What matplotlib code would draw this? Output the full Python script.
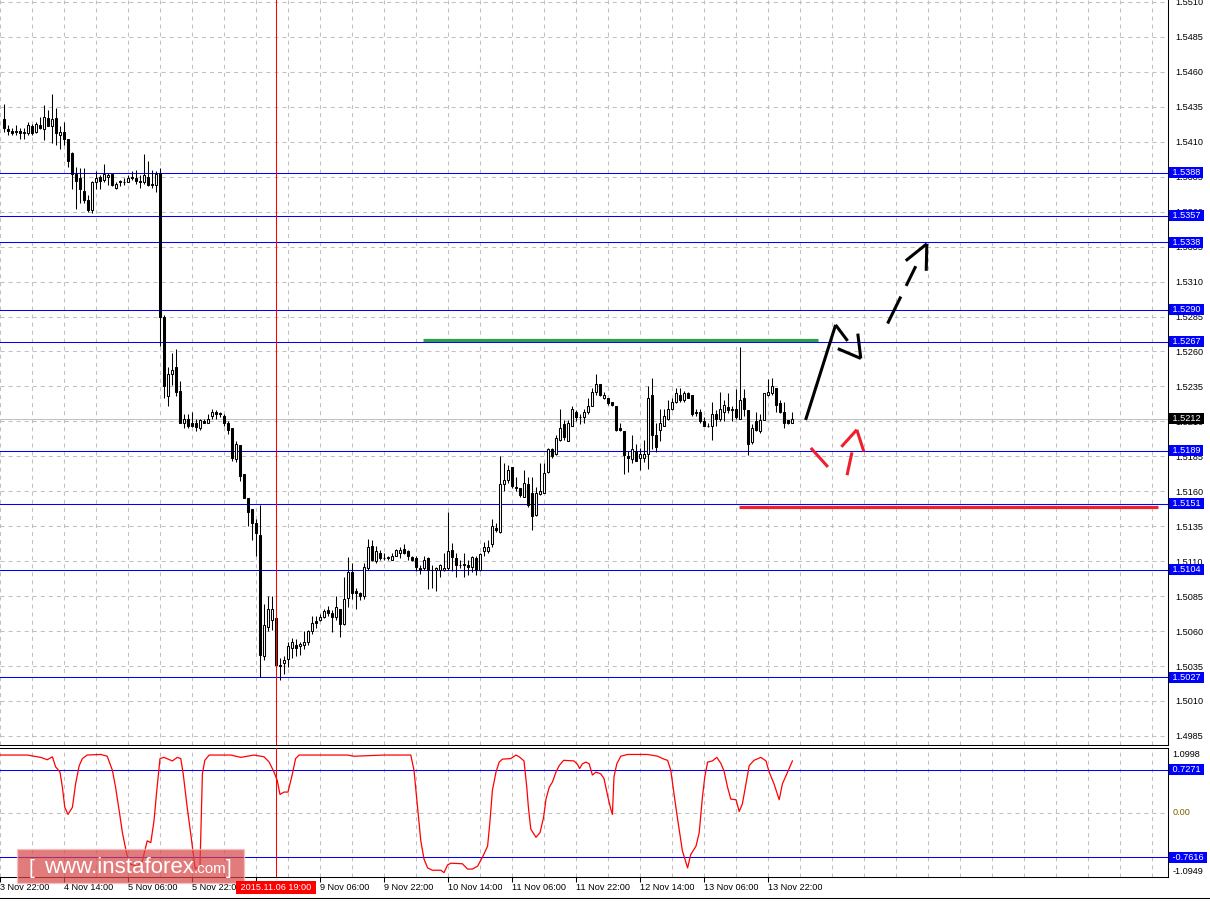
import matplotlib
matplotlib.use("Agg")
from matplotlib import pyplot as plt
from matplotlib import transforms
from matplotlib.lines import Line2D
from matplotlib.patches import Rectangle
import numpy as np

plt.rcParams["font.family"] = ["Liberation Sans", "DejaVu Sans"]
plt.rcParams["lines.scale_dashes"] = False

# GBP/USD H1 candles, first bar 3 Nov 22:00
opens = [1.5426, 1.5419, 1.5418, 1.5418, 1.5418, 1.5417, 1.5416, 1.5421, 1.5417, 1.5422,
         1.5419, 1.5427, 1.5421, 1.5427, 1.5415, 1.5417, 1.5412, 1.5402, 1.5387, 1.5384,
         1.5375, 1.5368, 1.5361, 1.5381, 1.5385, 1.5383, 1.5385, 1.5387, 1.5377, 1.5382,
         1.5381, 1.5381, 1.5385, 1.5384, 1.5382, 1.5381, 1.5385, 1.5380, 1.5379, 1.5388,
         1.5285, 1.5228, 1.5244, 1.5249, 1.5232, 1.5209, 1.5212, 1.5209, 1.5209, 1.5205,
         1.5210, 1.5209, 1.5214, 1.5217, 1.5216, 1.5214, 1.5209, 1.5205, 1.5183, 1.5193,
         1.5172, 1.5155, 1.5147, 1.5137, 1.5129, 1.5042, 1.5063, 1.5068, 1.5069, 1.5036,
         1.5037, 1.5040, 1.5048, 1.5050, 1.5049, 1.5050, 1.5052, 1.5060, 1.5067, 1.5068,
         1.5070, 1.5075, 1.5073, 1.5070, 1.5076, 1.5065, 1.5084, 1.5102, 1.5089, 1.5087,
         1.5085, 1.5105, 1.5121, 1.5110, 1.5116, 1.5112, 1.5112, 1.5111, 1.5114, 1.5116,
         1.5119, 1.5117, 1.5113, 1.5112, 1.5105, 1.5105, 1.5112, 1.5104, 1.5104, 1.5104,
         1.5104, 1.5105, 1.5118, 1.5112, 1.5107, 1.5108, 1.5107, 1.5106, 1.5112, 1.5104,
         1.5117, 1.5117, 1.5122, 1.5134, 1.5131, 1.5165, 1.5168, 1.5177, 1.5163, 1.5162,
         1.5156, 1.5165, 1.5159, 1.5143, 1.5158, 1.5159, 1.5174, 1.5190, 1.5187, 1.5197,
         1.5208, 1.5196, 1.5207, 1.5217, 1.5213, 1.5213, 1.5217, 1.5221, 1.5231, 1.5237,
         1.5227, 1.5227, 1.5224, 1.5221, 1.5205, 1.5203, 1.5185, 1.5183, 1.5189, 1.5184,
         1.5184, 1.5187, 1.5229, 1.5200, 1.5204, 1.5207, 1.5212, 1.5219, 1.5224, 1.5229,
         1.5225, 1.5230, 1.5229, 1.5217, 1.5217, 1.5210, 1.5207, 1.5207, 1.5215, 1.5212,
         1.5217, 1.5220, 1.5218, 1.5219, 1.5212, 1.5227, 1.5218, 1.5195, 1.5210, 1.5203,
         1.5211, 1.5229, 1.5230, 1.5234, 1.5223, 1.5217, 1.5211, 1.5209]
highs = [1.5437, 1.5422, 1.5420, 1.5422, 1.5420, 1.5420, 1.5424, 1.5423, 1.5424, 1.5428,
         1.5436, 1.5433, 1.5444, 1.5434, 1.5421, 1.5424, 1.5412, 1.5403, 1.5392, 1.5391,
         1.5391, 1.5372, 1.5382, 1.5389, 1.5386, 1.5394, 1.5388, 1.5387, 1.5381, 1.5383,
         1.5384, 1.5386, 1.5389, 1.5390, 1.5386, 1.5401, 1.5396, 1.5390, 1.5389, 1.5391,
         1.5286, 1.5249, 1.5259, 1.5262, 1.5239, 1.5215, 1.5215, 1.5217, 1.5212, 1.5212,
         1.5212, 1.5215, 1.5219, 1.5218, 1.5217, 1.5215, 1.5210, 1.5205, 1.5196, 1.5193,
         1.5172, 1.5155, 1.5147, 1.5140, 1.5150, 1.5079, 1.5085, 1.5085, 1.5070, 1.5041,
         1.5042, 1.5052, 1.5055, 1.5054, 1.5052, 1.5060, 1.5061, 1.5071, 1.5071, 1.5072,
         1.5076, 1.5078, 1.5075, 1.5085, 1.5076, 1.5099, 1.5113, 1.5109, 1.5091, 1.5088,
         1.5109, 1.5126, 1.5125, 1.5121, 1.5118, 1.5116, 1.5114, 1.5116, 1.5119, 1.5120,
         1.5122, 1.5118, 1.5114, 1.5114, 1.5107, 1.5114, 1.5113, 1.5107, 1.5106, 1.5108,
         1.5116, 1.5145, 1.5123, 1.5116, 1.5111, 1.5116, 1.5111, 1.5114, 1.5114, 1.5116,
         1.5124, 1.5125, 1.5140, 1.5137, 1.5185, 1.5180, 1.5179, 1.5177, 1.5170, 1.5162,
         1.5175, 1.5170, 1.5170, 1.5163, 1.5180, 1.5180, 1.5191, 1.5191, 1.5200, 1.5219,
         1.5211, 1.5211, 1.5221, 1.5218, 1.5215, 1.5219, 1.5227, 1.5234, 1.5244, 1.5237,
         1.5231, 1.5227, 1.5224, 1.5221, 1.5209, 1.5203, 1.5189, 1.5200, 1.5194, 1.5191,
         1.5197, 1.5235, 1.5241, 1.5209, 1.5219, 1.5219, 1.5225, 1.5227, 1.5234, 1.5234,
         1.5232, 1.5231, 1.5229, 1.5219, 1.5219, 1.5213, 1.5209, 1.5224, 1.5218, 1.5231,
         1.5225, 1.5230, 1.5221, 1.5233, 1.5263, 1.5233, 1.5218, 1.5208, 1.5217, 1.5215,
         1.5230, 1.5240, 1.5241, 1.5234, 1.5225, 1.5224, 1.5211, 1.5217]
lows = [1.5417, 1.5415, 1.5415, 1.5415, 1.5412, 1.5412, 1.5415, 1.5415, 1.5416, 1.5419,
        1.5411, 1.5421, 1.5409, 1.5408, 1.5405, 1.5408, 1.5392, 1.5376, 1.5362, 1.5366,
        1.5366, 1.5360, 1.5359, 1.5376, 1.5376, 1.5381, 1.5379, 1.5378, 1.5376, 1.5378,
        1.5379, 1.5381, 1.5383, 1.5380, 1.5377, 1.5380, 1.5378, 1.5377, 1.5374, 1.5264,
        1.5227, 1.5221, 1.5236, 1.5228, 1.5209, 1.5205, 1.5205, 1.5206, 1.5203, 1.5204,
        1.5209, 1.5209, 1.5212, 1.5212, 1.5213, 1.5207, 1.5201, 1.5182, 1.5181, 1.5167,
        1.5155, 1.5135, 1.5125, 1.5114, 1.5027, 1.5039, 1.5060, 1.5061, 1.5036, 1.5025,
        1.5029, 1.5034, 1.5041, 1.5042, 1.5043, 1.5047, 1.5050, 1.5058, 1.5062, 1.5067,
        1.5069, 1.5071, 1.5059, 1.5068, 1.5056, 1.5064, 1.5077, 1.5083, 1.5076, 1.5082,
        1.5083, 1.5104, 1.5110, 1.5109, 1.5111, 1.5111, 1.5111, 1.5111, 1.5114, 1.5112,
        1.5115, 1.5111, 1.5110, 1.5103, 1.5101, 1.5104, 1.5090, 1.5091, 1.5089, 1.5099,
        1.5103, 1.5104, 1.5103, 1.5099, 1.5105, 1.5099, 1.5100, 1.5102, 1.5100, 1.5103,
        1.5114, 1.5116, 1.5120, 1.5131, 1.5130, 1.5160, 1.5166, 1.5162, 1.5160, 1.5156,
        1.5156, 1.5149, 1.5132, 1.5142, 1.5157, 1.5159, 1.5173, 1.5184, 1.5186, 1.5196,
        1.5197, 1.5196, 1.5207, 1.5210, 1.5208, 1.5209, 1.5215, 1.5221, 1.5229, 1.5228,
        1.5226, 1.5222, 1.5221, 1.5203, 1.5203, 1.5172, 1.5174, 1.5180, 1.5182, 1.5175,
        1.5181, 1.5176, 1.5190, 1.5188, 1.5196, 1.5207, 1.5211, 1.5218, 1.5223, 1.5224,
        1.5224, 1.5227, 1.5214, 1.5214, 1.5209, 1.5207, 1.5206, 1.5197, 1.5207, 1.5210,
        1.5210, 1.5216, 1.5210, 1.5212, 1.5212, 1.5214, 1.5186, 1.5194, 1.5203, 1.5202,
        1.5211, 1.5228, 1.5229, 1.5217, 1.5216, 1.5205, 1.5208, 1.5209]
closes = [1.5420, 1.5418, 1.5416, 1.5417, 1.5416, 1.5416, 1.5422, 1.5416, 1.5423, 1.5420,
          1.5428, 1.5421, 1.5426, 1.5416, 1.5417, 1.5412, 1.5396, 1.5387, 1.5382, 1.5376,
          1.5368, 1.5361, 1.5381, 1.5384, 1.5382, 1.5387, 1.5386, 1.5379, 1.5380, 1.5381,
          1.5381, 1.5384, 1.5384, 1.5382, 1.5381, 1.5386, 1.5379, 1.5379, 1.5387, 1.5285,
          1.5235, 1.5244, 1.5247, 1.5231, 1.5209, 1.5212, 1.5207, 1.5207, 1.5206, 1.5211,
          1.5209, 1.5212, 1.5217, 1.5215, 1.5215, 1.5209, 1.5204, 1.5184, 1.5194, 1.5171,
          1.5155, 1.5145, 1.5137, 1.5130, 1.5043, 1.5064, 1.5076, 1.5076, 1.5036, 1.5035,
          1.5039, 1.5049, 1.5052, 1.5048, 1.5051, 1.5052, 1.5060, 1.5066, 1.5066, 1.5070,
          1.5074, 1.5073, 1.5070, 1.5077, 1.5065, 1.5083, 1.5102, 1.5087, 1.5087, 1.5085,
          1.5106, 1.5120, 1.5111, 1.5117, 1.5112, 1.5112, 1.5113, 1.5114, 1.5118, 1.5118,
          1.5116, 1.5114, 1.5111, 1.5106, 1.5104, 1.5111, 1.5104, 1.5104, 1.5105, 1.5107,
          1.5105, 1.5117, 1.5113, 1.5107, 1.5107, 1.5107, 1.5106, 1.5113, 1.5104, 1.5115,
          1.5120, 1.5120, 1.5135, 1.5132, 1.5165, 1.5168, 1.5175, 1.5164, 1.5162, 1.5157,
          1.5166, 1.5150, 1.5142, 1.5159, 1.5160, 1.5173, 1.5190, 1.5185, 1.5198, 1.5205,
          1.5199, 1.5209, 1.5219, 1.5213, 1.5213, 1.5217, 1.5221, 1.5231, 1.5237, 1.5229,
          1.5229, 1.5223, 1.5222, 1.5204, 1.5204, 1.5186, 1.5184, 1.5190, 1.5182, 1.5187,
          1.5187, 1.5227, 1.5200, 1.5192, 1.5209, 1.5214, 1.5219, 1.5224, 1.5230, 1.5225,
          1.5230, 1.5227, 1.5215, 1.5216, 1.5210, 1.5207, 1.5207, 1.5215, 1.5212, 1.5219,
          1.5222, 1.5218, 1.5219, 1.5213, 1.5225, 1.5219, 1.5194, 1.5205, 1.5204, 1.5211,
          1.5230, 1.5231, 1.5235, 1.5222, 1.5217, 1.5209, 1.5209, 1.5212]

level_prices = [1.5388, 1.5357, 1.5338, 1.5290, 1.5267, 1.5189, 1.5151, 1.5104, 1.5027]
bid_price = 1.5212
price_ticks = [round(1.4985 + 0.0025 * i, 4) for i in range(22)]

time_tick_bars = [-1, 15, 31, 47, 63, 79, 95, 111, 127, 143, 159, 175, 191]
time_tick_labels = ["3 Nov 22:00", "4 Nov 14:00", "5 Nov 06:00", "5 Nov 22:00",
                    "6 Nov 14:00", "9 Nov 06:00", "9 Nov 22:00", "10 Nov 14:00",
                    "11 Nov 06:00", "11 Nov 22:00", "12 Nov 14:00", "13 Nov 06:00",
                    "13 Nov 22:00"]
cursor_bar = 68
cursor_label = "2015.11.06 19:00"

# oscillator (bar, value)
osc_points = [(-1, 0.98), (5.8, 0.98), (9.2, 0.94), (10.8, 0.90), (12.1, 0.95), (12.9, 0.78),
              (14, 0.69), (14.6, 0.43), (15.2, 0.09), (16, -0.03), (17.1, 0.09), (17.9, 0.49),
              (18.8, 0.80), (19.6, 0.92), (20.8, 0.98), (24.2, 0.99), (25.8, 0.96), (27.1, 0.72),
              (27.9, 0.43), (28.8, 0.03), (29.6, -0.34), (30.7, -0.71), (31.7, -0.88), (33.3, -0.91),
              (34.6, -0.82), (35.8, -0.48), (36.7, -0.51), (37.5, -0.14), (38.2, 0.38), (39, 0.92),
              (40, 0.94), (42.1, 0.88), (43.3, 0.94), (44.2, 0.92), (44.8, 0.66), (45.8, 0.09),
              (46.8, -0.42), (47.8, -0.96), (49, -0.91), (49.6, 0.66), (50.2, 0.89), (51.3, 0.98),
              (56.7, 0.98), (59.2, 0.94), (60.8, 0.96), (62.5, 0.98), (65, 0.95), (66.3, 0.86),
              (67.5, 0.69), (68.3, 0.55), (69, 0.31), (70, 0.35), (71, 0.35), (72.1, 0.66),
              (72.9, 0.92), (73.8, 0.98), (85.8, 0.98), (87.5, 0.96), (95, 0.98), (101.7, 0.98),
              (102.5, 0.72), (103.4, 0.09), (104.2, -0.48), (105, -0.79), (105.9, -0.94),
              (107.1, -0.98), (109.2, -0.98), (110, -1.02), (110.9, -0.89), (111.7, -0.86),
              (114.6, -0.87), (115.9, -0.96), (117.1, -0.96), (118.4, -0.91), (119.6, -0.76),
              (120.9, -0.57), (121.5, -0.14), (122.1, 0.38), (123, 0.69), (123.8, 0.86),
              (124.6, 0.91), (126.7, 0.92), (128, 0.98), (128.8, 0.95), (130, 0.88), (130.7, 0.43),
              (131.1, 0.09), (131.7, -0.28), (133, -0.42), (134, -0.34), (134.9, -0.08),
              (135.5, 0.23), (136.3, 0.43), (137.1, 0.52), (138, 0.69), (138.8, 0.80),
              (139.9, 0.89), (142.5, 0.88), (143.4, 0.82), (143.9, 0.75), (144.6, 0.83),
              (145.5, 0.86), (146.3, 0.83), (147.1, 0.64), (148, 0.69), (149.2, 0.66),
              (150, 0.58), (150.9, 0.29), (151.7, 0.06), (152.1, -0.03), (152.5, 0.61),
              (153.2, 0.83), (154.2, 0.96), (155.9, 0.99), (160.9, 0.99), (163.4, 0.96),
              (165, 0.91), (165.9, 0.89), (166.7, 0.72), (167.5, 0.32), (168.4, -0.11),
              (169.6, -0.65), (170.9, -0.94), (171.7, -0.71), (173, -0.57), (173.8, -0.34),
              (174.6, 0.26), (175.2, 0.61), (175.9, 0.86), (177.1, 0.88), (178.2, 0.94),
              (179.2, 0.84), (180, 0.71), (180.9, 0.43), (181.7, 0.23), (183, 0.22),
              (183.8, 0.02), (184.6, 0.15), (185.5, 0.49), (186.3, 0.80), (187.5, 0.89),
              (189.2, 0.94), (190.5, 0.88), (191.3, 0.69), (192.5, 0.49), (193.8, 0.22),
              (194.6, 0.49), (195.9, 0.69), (197.1, 0.88)]
osc_levels = [0.7271, -0.7616]
osc_top, osc_bottom = 1.0998, -1.0949

# drawn annotations: (bar, price)
green_zone = (104.7, 203.4, 1.5268)
red_zone = (183.7, 288.4, 1.5149)
black_rise = [(200.4, 1.5211), (207.9, 1.5279)]
black_pullback = [(207.9, 1.5279), (214.2, 1.5255)]
black_target = [(220.9, 1.5280), (230.7, 1.5337)]
red_dip = [(201.7, 1.5191), (210.2, 1.5164), (213.2, 1.5204)]

W, H = 1210, 901
FS = 6.6


def fx(x):
    return x / W


def fy(y):
    return 1 - y / H


fig = plt.figure(figsize=(W / 100, H / 100), dpi=100)
ax = fig.add_axes([0, fy(745), fx(1168), fy(0) - fy(745)])
ax2 = fig.add_axes([0, fy(877), fx(1168), fy(748) - fy(877)])

ax.set_xlim(-1, 291)
ax.set_ylim(1.49785, 1.55114)
ax2.set_xlim(-1, 291)
ax2.set_ylim(osc_bottom, osc_top)

for a, shown in ((ax, ("right", "bottom")), (ax2, ("right", "bottom", "top"))):
    for s in a.spines:
        a.spines[s].set_visible(s in shown)
        a.spines[s].set_linewidth(0.75)

# grid
grid_kw = dict(color="#c0c0c0", lw=0.75, dashes=(2.9, 2.9), zorder=0.5)
for p in price_ticks:
    ax.axhline(p, **grid_kw)
for k in range(-1, 292, 8):
    ax.axvline(k, **grid_kw)
    ax2.axvline(k, **grid_kw)
ax2.axhline(0, **grid_kw)

# price scale
ax.set_xticks([])
ax.yaxis.tick_right()
ax.set_yticks(price_ticks)
ax.set_yticklabels([f"{p:.4f}" for p in price_ticks])
ax.tick_params(axis="y", length=0, pad=5, labelsize=FS)

# levels
for v in level_prices:
    ax.axhline(v, color="#0000ff", lw=0.75, zorder=2)
ax.axhline(bid_price, color="#c0c0c0", lw=0.75, zorder=1)

# candles
bars = np.arange(len(opens))
o, h, l, c = (np.array(v) for v in (opens, highs, lows, closes))
ax.vlines(bars, l, h, color="black", lw=0.75, zorder=3)
ax.bar(bars, c - o, bottom=o, width=0.55, color=np.where(c >= o, "white", "black"),
       edgecolor="black", linewidth=0.75, zorder=4)

# hand drawn lines
ax.hlines(green_zone[2], green_zone[0], green_zone[1], color="#2e9e50", lw=2.3, zorder=5)
ax.hlines(red_zone[2], red_zone[0], red_zone[1], color="#ee2229", lw=2.3, zorder=5)


def draw_path(points, color, dashes=None):
    xs, ys = zip(*points)
    kw = dict(color=color, lw=2.2, zorder=6, solid_capstyle="butt", dash_capstyle="butt")
    if dashes:
        kw["dashes"] = dashes
    ax.plot(xs, ys, **kw)


def arrow_head(tail, tip, color, length, angle):
    t = ax.transData
    p_tail = t.transform(tail)
    p_tip = t.transform(tip)
    d = (p_tail - p_tip) / np.hypot(*(p_tail - p_tip))
    for sign in (1, -1):
        a = np.radians(angle) * sign
        rot = np.array([[np.cos(a), -np.sin(a)], [np.sin(a), np.cos(a)]])
        wing = t.inverted().transform([p_tip, p_tip + rot @ d * length])
        ax.plot(wing[:, 0], wing[:, 1], color=color, lw=2.2, zorder=6, solid_capstyle="butt")


draw_path(black_rise, "black")
draw_path(black_pullback, "black", dashes=(14.4, 21.6))
arrow_head(black_pullback[0], black_pullback[1], "black", 25, 30)
draw_path(black_target, "black", dashes=(21.6, 8.6, 15.8, 30))
arrow_head(black_target[0], black_target[1], "black", 27, 25)
draw_path(red_dip, "#ee2030", dashes=(18.4, 25.9, 16.8, 21.6))
arrow_head(red_dip[1], red_dip[2], "#ee2030", 23, 30)


def side_label(a, v, fc):
    a.annotate(f" {v:.4f} ", xy=(1, v), xycoords=("axes fraction", "data"),
               xytext=(1.2, 0), textcoords="offset points", va="center", ha="left",
               fontsize=FS, color="white", annotation_clip=False, zorder=7,
               bbox=dict(boxstyle="square,pad=0.1", fc=fc, ec="none"))


for v in level_prices:
    side_label(ax, v, "#0000ff")
side_label(ax, bid_price, "black")

# oscillator panel
osc_k, osc_v = zip(*osc_points)
ax2.plot(osc_k, osc_v, color="red", lw=0.9, zorder=3)
for v in osc_levels:
    ax2.axhline(v, color="#0000ff", lw=0.75, zorder=2)
    side_label(ax2, v, "#0000ff")
ax2.set_yticks([])
for v, dy, va in ((osc_top, -1.5, "top"), (0.0, 0, "center"), (osc_bottom, 1.0, "bottom")):
    txt = f"{v:.2f}" if v == 0 else f"{v:.4f}"
    ax2.annotate(txt, xy=(1, v), xycoords=("axes fraction", "data"), xytext=(3.2, dy),
                 textcoords="offset points", va=va, ha="left", fontsize=FS,
                 color="#806000" if v == 0 else "black", annotation_clip=False)

ax2.set_xticks(time_tick_bars)
ax2.set_xticklabels(time_tick_labels, ha="left")
ax2.tick_params(axis="x", length=3.6, width=0.75, pad=0.5, labelsize=FS)

# crosshair
for a in (ax, ax2):
    a.axvline(cursor_bar, color="red", lw=0.75, zorder=5)
trans = transforms.blended_transform_factory(ax2.transData, fig.transFigure)
fig.text(cursor_bar, fy(887.5), f" {cursor_label} ", transform=trans, ha="center",
         va="center", fontsize=FS, color="white",
         bbox=dict(boxstyle="square,pad=0.2", fc="#ff0000", ec="none"))

fig.add_artist(Line2D([0, 1], [fy(897.5)] * 2, color="black", lw=0.75))

# watermark
fig.add_artist(Rectangle((fx(17), fy(883)), fx(244) - fx(17), fy(849) - fy(883),
                         transform=fig.transFigure, fc="#d84848", alpha=0.72,
                         ec="#f4c0c0", lw=1))
fig.text(fx(29), fy(868), "[", fontsize=15, color="white", va="center", ha="left")
fig.text(fx(44), fy(873), "www.instaforex", fontsize=16, color="white", va="baseline", ha="left")
fig.text(fx(194), fy(873), ".com", fontsize=11, color="white", va="baseline", ha="left")
fig.text(fx(226), fy(868), "]", fontsize=15, color="white", va="center", ha="left")

fig.savefig("out.png", dpi=100)
